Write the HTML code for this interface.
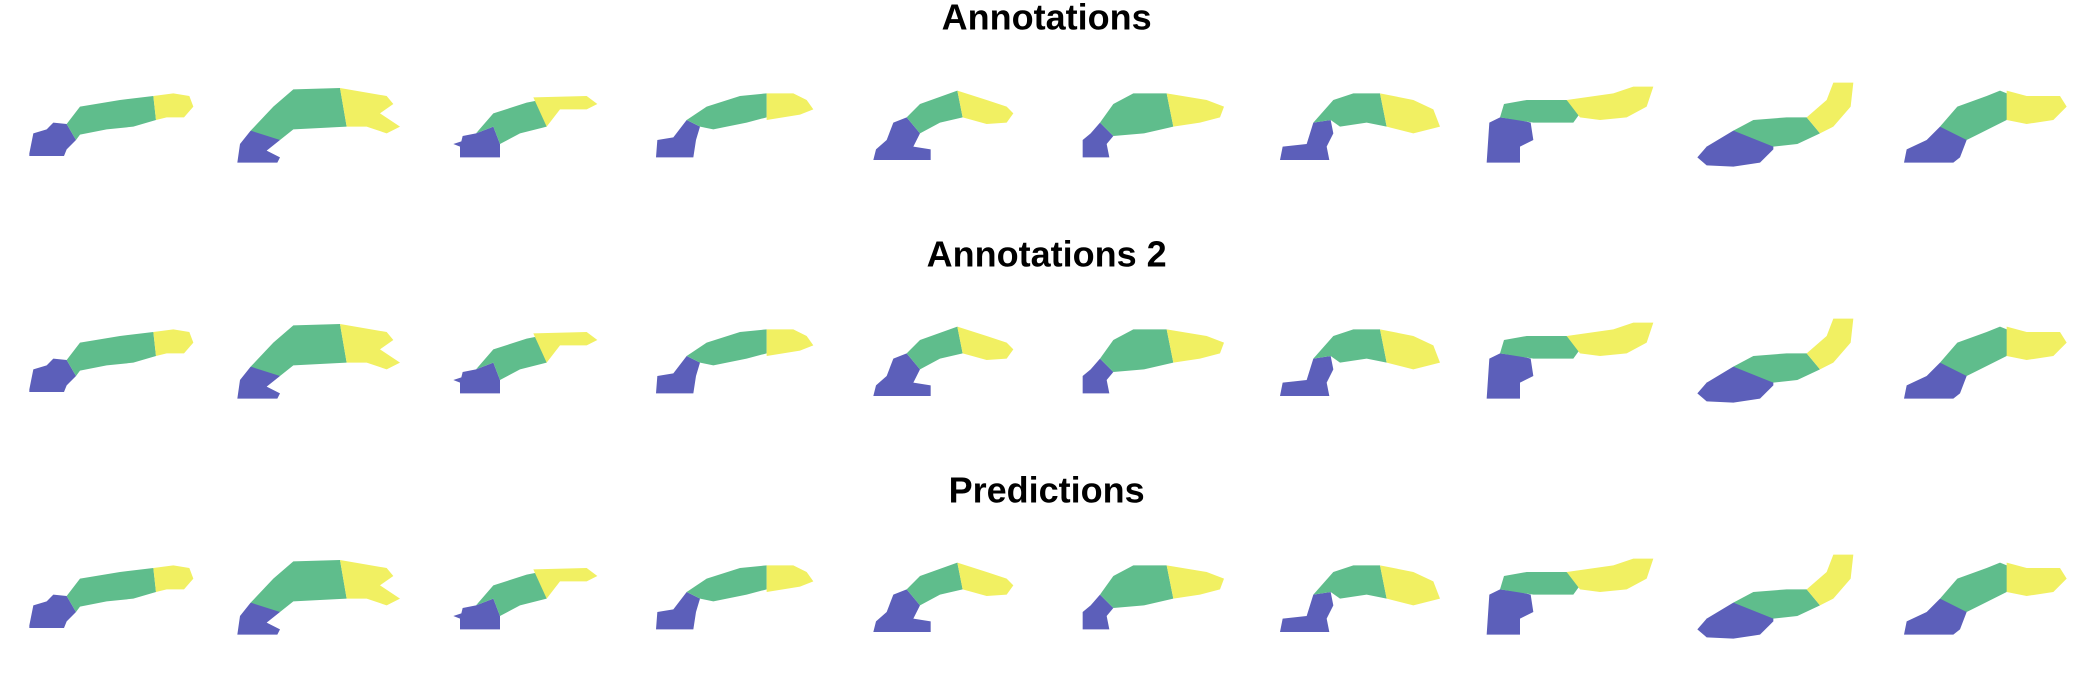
<!DOCTYPE html>
<html><head><meta charset="utf-8"><style>
html,body{margin:0;padding:0;background:#fff;width:2091px;height:693px;overflow:hidden}
svg{display:block}
text{font-family:"Liberation Sans",Arial,sans-serif;font-weight:bold;fill:#000}
.b{fill:#5c5fba}.g{fill:#5fbd8c}.y{fill:#f1f062}
</style></head><body>
<svg width="2091" height="693" viewBox="0 0 1568.25 519.75">
<defs>
<g id="row">
<polygon class="b" points="22,115 25,100 35,97 40,92 50,93 57,105 50,112 48,117 22,117"/>
<polygon class="g" points="50,93 60,80 90,75 115,72 117,90 100,95 80,97 60,101 57,105"/>
<polygon class="y" points="115,72 130,70 142,72 145,80 138,88 125,88 117,90"/>
<polygon class="b" points="178,122 180,108 188,98 200,97 210,105 200,113 210,118 208,122"/>
<polygon class="g" points="188,98 205,80 220,67 255,66 260,95 220,97 210,105"/>
<polygon class="y" points="255,66 290,72 295,78 285,85 300,95 290,100 275,95 260,95"/>
<polygon class="b" points="345,118 345,110 340,108 346,106 347,102 357,100 370,95 375,108 375,118"/>
<polygon class="g" points="357,100 370,85 395,77 405,75 410,95 390,100 375,108 370,95"/>
<polygon class="y" points="400,73 440,72 448,78 440,82 420,82 410,95"/>
<polygon class="b" points="492,118 493,105 505,103 515,90 525,95 522,105 520,118"/>
<polygon class="g" points="515,90 530,80 555,72 575,70 575,88 560,92 535,97 525,95"/>
<polygon class="y" points="575,70 595,70 605,75 610,82 600,86 575,90"/>
<polygon class="b" points="655,120 657,112 665,105 670,92 680,88 690,100 685,110 698,112 698,120"/>
<polygon class="g" points="680,88 690,78 718,68 722,88 705,92 690,100"/>
<polygon class="y" points="718,68 740,75 755,80 760,85 755,92 740,93 722,88"/>
<polygon class="b" points="812,118 812,105 818,100 825,92 835,102 830,108 832,118"/>
<polygon class="g" points="825,92 835,78 850,70 875,70 880,95 858,100 835,102"/>
<polygon class="y" points="875,70 905,75 918,80 915,88 900,92 880,95"/>
<polygon class="b" points="960,120 962,110 980,108 985,92 998,90 1000,100 995,110 997,120"/>
<polygon class="g" points="985,92 1000,75 1015,70 1035,70 1040,95 1025,92 1005,95 998,90"/>
<polygon class="y" points="1035,70 1060,75 1075,82 1080,95 1060,100 1040,95"/>
<polygon class="b" points="1115,122 1117,92 1125,88 1140,90 1148,92 1150,105 1140,110 1140,122"/>
<polygon class="g" points="1125,88 1128,78 1145,75 1175,75 1185,85 1180,92 1150,92"/>
<polygon class="y" points="1175,75 1210,70 1225,65 1240,65 1235,80 1220,88 1200,90 1185,88"/>
<polygon class="b" points="1273,118 1280,110 1300,98 1320,92 1330,100 1330,112 1320,122 1300,125 1280,124"/>
<polygon class="g" points="1300,98 1315,90 1340,88 1355,88 1365,100 1348,108 1330,110"/>
<polygon class="y" points="1355,88 1370,75 1375,62 1390,62 1388,80 1375,95 1365,100"/>
<polygon class="b" points="1428,122 1430,112 1445,105 1455,95 1470,92 1475,105 1470,118 1465,122"/>
<polygon class="g" points="1455,95 1468,80 1490,72 1500,68 1510,72 1505,90 1485,100 1475,105"/>
<polygon class="y" points="1505,68 1520,72 1545,72 1550,80 1540,90 1520,93 1505,90"/>
</g>
</defs>
<text x="785" y="22" font-size="27" text-anchor="middle">Annotations</text>
<text x="785" y="200" font-size="27" text-anchor="middle">Annotations 2</text>
<text x="785" y="377" font-size="27" text-anchor="middle">Predictions</text>
<use href="#row"/>
<use href="#row" transform="translate(0,177)"/>
<use href="#row" transform="translate(0,354)"/>
</svg>
</body></html>
